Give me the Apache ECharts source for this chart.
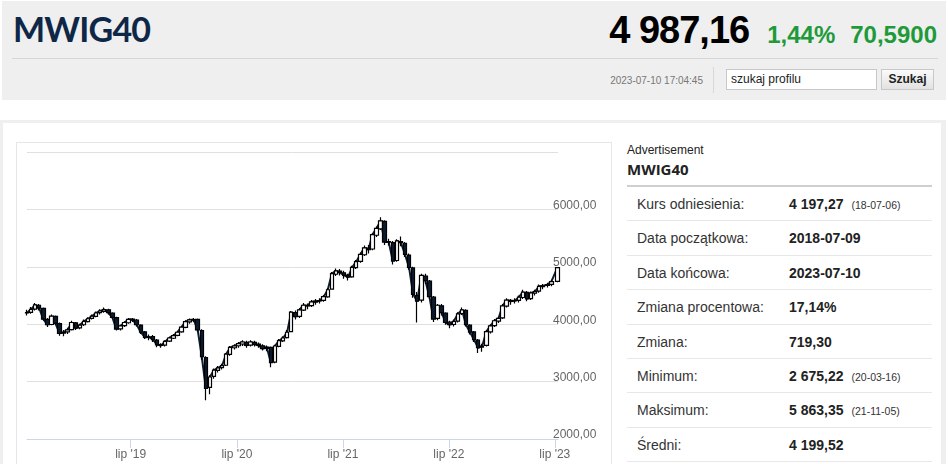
<!DOCTYPE html>
<html>
<head>
<meta charset="utf-8">
<script src="https://cdn.jsdelivr.net/npm/echarts@6/dist/echarts.min.js"></script>
<style>
html,body{margin:0;padding:0;width:948px;height:464px;overflow:hidden;background:#fff;font-family:"Liberation Sans",Arial,sans-serif;}
.abs{position:absolute;}
#header{left:2px;top:1px;width:944px;height:99px;background:#efefef;}
#title{left:13px;top:12px;font-family:"Lato",sans-serif;font-weight:700;font-size:34px;line-height:34px;letter-spacing:-0.8px;color:#0f2747;}
#hline{left:12px;top:58px;width:926px;height:1px;background:#d6d6d6;}
#quote{right:11px;top:11px;display:flex;align-items:baseline;line-height:1;font-weight:700;}
#price{font-size:38px;color:#000;letter-spacing:-1px;}
#pct{font-size:24px;color:#1e9a3a;margin-left:18px;}
#chg{font-size:24px;color:#1e9a3a;margin-left:15px;}
#ts{right:245px;top:76px;font-size:10px;line-height:10px;color:#777;}
#vsep{left:713px;top:67px;width:1px;height:26px;background:#d8d8d8;}
#search{left:726px;top:69px;width:151px;height:21px;box-sizing:border-box;border:1px solid #c8c8c8;background:#fff;font-size:12px;line-height:19px;padding-left:4px;color:#222;}
#btn{left:881px;top:69px;width:53px;height:21px;box-sizing:border-box;border:1px solid #c8c8c8;background:linear-gradient(#fafafa,#e2e2e2);font-size:12px;font-weight:700;line-height:19px;text-align:center;color:#222;}
#panel{left:0;top:120px;width:946px;height:360px;box-sizing:border-box;border-left:3px solid #efefef;border-top:3px solid #efefef;border-right:5px solid #efefef;}
#chartbox{left:16px;top:142px;width:596px;height:340px;box-sizing:border-box;border:1px solid #e6e6e6;}
#chart{position:absolute;left:0;top:0;width:594px;height:328px;}
#adv{left:627px;top:144px;font-size:12px;line-height:12px;color:#222;}
#subtitle{left:627px;top:160px;font-family:"Open Sans",sans-serif;font-weight:700;font-size:15px;line-height:18px;color:#222;}
#tline{left:627px;top:185px;width:305px;height:2px;background:#cfcfcf;}
#table{left:627px;top:187px;width:305px;}
.row{position:relative;height:33.4px;border-bottom:1px solid #e8e8e8;font-size:14px;color:#333;}
.row .l{position:absolute;left:10px;top:10px;line-height:14px;}
.row .v{position:absolute;left:162px;top:10px;line-height:14px;font-weight:700;color:#222;}
.row .d{font-size:10.5px;font-weight:400;margin-left:8px;color:#333;}
</style>
</head>
<body>
<div id="header" class="abs"></div>
<div id="title" class="abs">MWIG40</div>
<div id="hline" class="abs"></div>
<div id="quote" class="abs"><span id="price">4 987,16</span><span id="pct">1,44%</span><span id="chg">70,5900</span></div>
<div id="ts" class="abs">2023-07-10 17:04:45</div>
<div id="vsep" class="abs"></div>
<div id="search" class="abs">szukaj profilu</div>
<div id="btn" class="abs">Szukaj</div>
<div id="panel" class="abs"></div>
<div id="chartbox" class="abs"><div id="chart"></div></div>
<div id="adv" class="abs">Advertisement</div>
<div id="subtitle" class="abs">MWIG40</div>
<div id="tline" class="abs"></div>
<div id="table" class="abs"></div>
<script>
var dates = [
'2018-07-09','2018-07-23','2018-08-06','2018-08-20','2018-09-03','2018-09-17','2018-10-01','2018-10-15','2018-10-29','2018-11-12','2018-11-26','2018-12-10','2018-12-24',
'2019-01-07','2019-01-21','2019-02-04','2019-02-18','2019-03-04','2019-03-18','2019-04-01','2019-04-15','2019-04-29','2019-05-13','2019-05-27','2019-06-10','2019-06-24','2019-07-08','2019-07-22','2019-08-05','2019-08-19','2019-09-02','2019-09-16','2019-09-30','2019-10-14','2019-10-28','2019-11-11','2019-11-25','2019-12-09','2019-12-23',
'2020-01-06','2020-01-20','2020-02-03','2020-02-17','2020-03-02','2020-03-16','2020-03-30','2020-04-13','2020-04-27','2020-05-11','2020-05-25','2020-06-08','2020-06-22','2020-07-06','2020-07-20','2020-08-03','2020-08-17','2020-08-31','2020-09-14','2020-09-28','2020-10-12','2020-10-26','2020-11-09','2020-11-23','2020-12-07','2020-12-21',
'2021-01-04','2021-01-18','2021-02-01','2021-02-15','2021-03-01','2021-03-15','2021-03-29','2021-04-12','2021-04-26','2021-05-10','2021-05-24','2021-06-07','2021-06-21','2021-07-05','2021-07-19','2021-08-02','2021-08-16','2021-08-30','2021-09-13','2021-09-27','2021-10-11','2021-10-25','2021-11-08','2021-11-22','2021-12-06','2021-12-20',
'2022-01-03','2022-01-17','2022-01-31','2022-02-14','2022-02-28','2022-03-14','2022-03-28','2022-04-11','2022-04-25','2022-05-09','2022-05-23','2022-06-06','2022-06-20','2022-07-04','2022-07-18','2022-08-01','2022-08-15','2022-08-29','2022-09-12','2022-09-26','2022-10-10','2022-10-24','2022-11-07','2022-11-21','2022-12-05','2022-12-19',
'2023-01-02','2023-01-16','2023-01-30','2023-02-13','2023-02-27','2023-03-13','2023-03-27','2023-04-10','2023-04-24','2023-05-08','2023-05-22','2023-06-05','2023-06-19','2023-07-10'
];
var opens = [
4197,4205,4262,4330,4275,4085,3995,4135,4010,3845,
3865,3905,4025,3935,3990,4045,4100,4135,4200,4225,
4250,4195,4115,3920,3975,4025,4090,4070,3985,3865,
3775,3785,3725,3645,3635,3705,3755,3805,3865,3945,
4040,4070,4085,3890,3420,2900,3090,3195,3245,3285,
3475,3590,3625,3655,3685,3635,3685,3655,3625,3580,
3595,3340,3615,3710,3765,3870,4200,4135,4245,4325,
4325,4385,4405,4415,4475,4610,4870,4925,4895,4855,
4825,4985,5095,5210,5325,5310,5550,5660,5790,5440,
5420,5110,5440,5410,5205,4980,4500,4420,4840,4750,
4470,4100,4320,4195,4035,3995,4055,4185,4240,3985,
3865,3725,3600,3630,3865,3975,4055,4110,4315,4415,
4405,4415,4465,4555,4445,4540,4575,4655,4675,4695,
4745
];
var closes = [
4200,4260,4335,4280,4090,3990,4140,4015,3840,3860,
3900,4030,3930,3985,4050,4095,4140,4195,4230,4255,
4200,4120,3915,3970,4030,4085,4075,3990,3860,3770,
3780,3730,3640,3630,3700,3760,3800,3860,3950,4045,
4075,4080,3900,3435,2880,3080,3200,3240,3280,3480,
3595,3620,3660,3690,3630,3690,3650,3630,3575,3600,
3330,3620,3715,3760,3860,4210,4130,4250,4330,4320,
4390,4400,4410,4480,4600,4880,4930,4900,4850,4820,
4990,5090,5215,5330,5300,5560,5670,5800,5430,5430,
5100,5450,5420,5215,4990,4520,4400,4850,4760,4480,
4090,4330,4200,4030,3990,4050,4180,4250,3990,3860,
3730,3590,3620,3870,3970,4060,4100,4320,4420,4400,
4410,4470,4560,4440,4545,4570,4660,4670,4690,4740,
4987
];
var lows = [
4150,4180,4240,4240,4060,3950,3980,3990,3800,3790,
3830,3890,3900,3910,3970,4030,4080,4120,4170,4200,
4170,4090,3890,3890,3950,4010,4040,3960,3830,3740,
3720,3690,3600,3590,3610,3690,3740,3790,3850,3930,
4010,4040,3870,3380,2675,2780,3050,3160,3210,3270,
3450,3560,3590,3620,3590,3610,3610,3590,3540,3530,
3250,3320,3600,3690,3750,3860,4080,4110,4230,4260,
4300,4340,4360,4390,4460,4600,4840,4850,4790,4760,
4810,4960,5070,5190,5230,5290,5520,5640,5380,5370,
5040,5090,5360,5170,4950,4460,4030,4380,4700,4440,
4040,4070,4150,3990,3930,3960,4030,4160,3960,3820,
3690,3500,3520,3610,3840,3950,4020,4090,4290,4340,
4360,4380,4440,4400,4420,4500,4550,4610,4640,4660,
4730
];
var highs = [
4250,4300,4370,4350,4290,4110,4170,4150,4030,3900,
3940,4060,4040,4010,4080,4120,4170,4220,4260,4290,
4270,4210,4130,3990,4050,4110,4110,4090,4000,3880,
3820,3810,3740,3670,3720,3780,3830,3880,3970,4070,
4100,4110,4100,3910,3440,3110,3230,3270,3310,3500,
3620,3650,3690,3720,3710,3720,3710,3680,3650,3630,
3610,3640,3740,3790,3900,4230,4240,4280,4370,4360,
4420,4440,4450,4510,4630,4910,4970,4960,4930,4880,
5020,5120,5250,5370,5380,5590,5700,5863,5810,5490,
5450,5480,5530,5430,5230,5000,4560,4880,4880,4770,
4490,4350,4350,4210,4060,4080,4210,4290,4260,4000,
3880,3740,3660,3900,4000,4090,4130,4350,4450,4440,
4450,4500,4600,4580,4570,4600,4690,4700,4720,4770,
4995
];
var tickDates = ['2019-07-01','2020-07-01','2021-07-01','2022-07-01','2023-07-01'];
var tickLabels = ["lip '19","lip '20","lip '21","lip '22","lip '23"];
var yTicks = [2000,3000,4000,5000,6000,7000];
var yLabels = ['2000,00','3000,00','4000,00','5000,00','6000,00',''];

var stats = [
  ['Kurs odniesienia:','4 197,27','(18-07-06)'],
  ['Data początkowa:','2018-07-09',''],
  ['Data końcowa:','2023-07-10',''],
  ['Zmiana procentowa:','17,14%',''],
  ['Zmiana:','719,30',''],
  ['Minimum:','2 675,22','(20-03-16)'],
  ['Maksimum:','5 863,35','(21-11-05)'],
  ['Średni:','4 199,52','']
];
var tbl = document.getElementById('table');
stats.forEach(function(r){
  var row = document.createElement('div'); row.className='row';
  var l = document.createElement('span'); l.className='l'; l.textContent=r[0];
  var v = document.createElement('span'); v.className='v'; v.textContent=r[1];
  if (r[2]) { var d=document.createElement('span'); d.className='d'; d.textContent=r[2]; v.appendChild(d); }
  row.appendChild(l); row.appendChild(v); tbl.appendChild(row);
});

function ts(d){ return Date.parse(d + 'T00:00:00Z'); }
var tickTimes = tickDates.map(ts);
var candleData = dates.map(function(d, i){ return [ts(d), opens[i], closes[i], lows[i], highs[i]]; });
var closeLine = dates.map(function(d, i){ return [ts(d), closes[i]]; });

var chart = echarts.init(document.getElementById('chart'), null, {renderer:'canvas'});
chart.setOption({
  animation:false,
  grid:{left:10, right:53, top:9, bottom:32},
  xAxis:{
    type:'value',
    min:ts('2018-07-09'),
    max:ts('2023-07-12'),
    axisLine:{show:true, lineStyle:{color:'#ccd6eb', width:1}},
    axisTick:{show:true, length:9, lineStyle:{color:'#ccd6eb'}, customValues:tickTimes},
    axisLabel:{
      customValues:tickTimes,
      margin:10, fontSize:12, lineHeight:12, color:'#666', fontFamily:'Liberation Sans, Arial, sans-serif',
      formatter:function(v){ var i = tickTimes.indexOf(v); return i >= 0 ? tickLabels[i] : ''; }
    },
    splitLine:{show:false}
  },
  yAxis:{
    type:'value', position:'right', min:2000, max:7000, interval:1000,
    axisLine:{show:false}, axisTick:{show:false},
    splitLine:{show:true, lineStyle:{color:'#e0e0e0', width:1}},
    axisLabel:{
      margin:-5, fontSize:12, lineHeight:8, color:'#666', verticalAlign:'bottom',
      fontFamily:'Liberation Sans, Arial, sans-serif',
      formatter:function(v){ var i = yTicks.indexOf(v); return i >= 0 ? yLabels[i] : ''; }
    }
  },
  series:[{
    type:'line',
    data:closeLine,
    showSymbol:false,
    z:1,
    lineStyle:{color:'#0b1c30', width:2}
  },{
    type:'candlestick',
    data:candleData,
    barWidth:4,
    z:2,
    itemStyle:{color:'#ffffff', color0:'#0b1c30', borderColor:'#000000', borderColor0:'#000000', borderWidth:1.2}
  }]
});
</script>
</body>
</html>
